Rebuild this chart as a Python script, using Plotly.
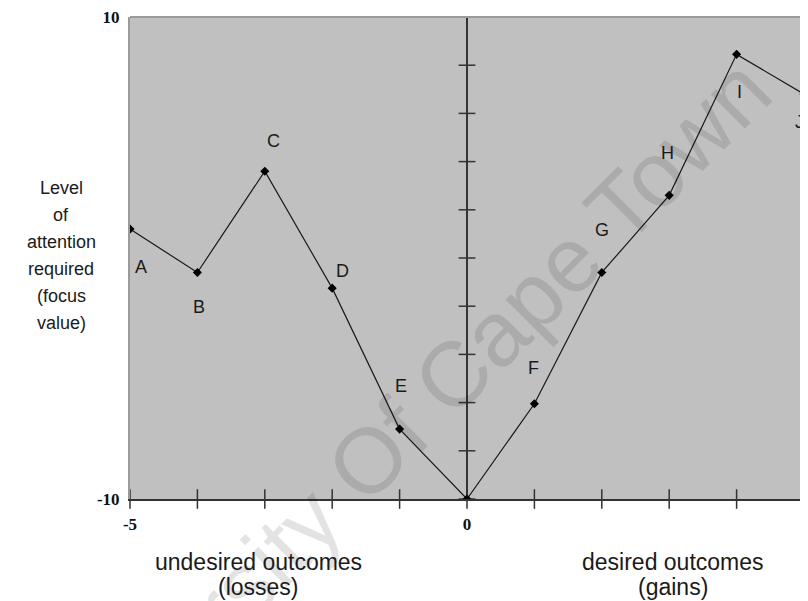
import plotly.graph_objects as go

# ---- data ----
point_labels = ["A", "B", "C", "D", "E", "", "F", "G", "H", "I", "J"]
outcomes = [-5, -4, -3, -2, -1, 0, 1, 2, 3, 4, 5]
focus_values = [1.2, -0.6, 3.6, -1.25, -7.1, -10, -6.05, -0.6, 2.6, 8.45, 6.8]

x_tick_vals = [-5, 0, 5]
x_tick_text = ["-5", "0", "5"]
y_tick_vals = [-10, 10]
y_tick_text = ["-10", "10"]
x_minor_ticks = [-5, -4, -3, -2, -1, 0, 1, 2, 3, 4, 5]
y_minor_ticks = [-10, -8, -6, -4, -2, 0, 2, 4, 6, 8, 10]

y_title_lines = ["Level", "of", "attention", "required", "(focus", "value)"]
loss_title_lines = ["undesired outcomes", "(losses)"]
gain_title_lines = ["desired outcomes", "(gains)"]
watermark = "University Of Cape Town"

# label offsets (pixels) relative to each point: (xshift, yshift)
label_shifts = [(11, -38), (2, -35), (9, 30), (10, 17), (1, 43), (0, 0),
                (-1, 36), (0, 42), (-2, 42), (3, -38), (-5, -28)]

SANS = "Liberation Sans, Arial"
SERIF = "Liberation Serif, Times New Roman"

fig = go.Figure()

# crossing tick marks on bottom axis
fig.add_trace(go.Scatter(
    x=x_minor_ticks, y=[-10] * len(x_minor_ticks), mode="markers",
    marker=dict(symbol="line-ns", size=14, line=dict(color="#333333", width=1.5)),
    cliponaxis=False, hoverinfo="skip", showlegend=False))
# crossing tick marks on central vertical axis
fig.add_trace(go.Scatter(
    x=[0] * len(y_minor_ticks), y=y_minor_ticks, mode="markers",
    marker=dict(symbol="line-ew", size=12, line=dict(color="#333333", width=1.5)),
    cliponaxis=False, hoverinfo="skip", showlegend=False))

# main series
fig.add_trace(go.Scatter(
    x=outcomes, y=focus_values, mode="lines+markers",
    line=dict(color="#1a1a1a", width=1.2),
    marker=dict(symbol="diamond", size=7, color="#000000"),
    showlegend=False))

annotations = []
# watermark first so other text sits on top
annotations.append(dict(
    text=watermark, xref="paper", yref="paper", x=0.395, y=0.14,
    showarrow=False, textangle=-45,
    font=dict(family=SANS, size=92, color="rgba(0,0,0,0.11)"),
    xanchor="center", yanchor="middle"))

for lab, xv, yv, (dx, dy) in zip(point_labels, outcomes, focus_values, label_shifts):
    if not lab:
        continue
    annotations.append(dict(
        text=lab, x=xv, y=yv, xref="x", yref="y", showarrow=False,
        xshift=dx, yshift=dy,
        font=dict(family=SANS, size=18, color="#1a1a1a")))

# bottom titles, one line at a time
for lines, xv in [(loss_title_lines, -3.1), (gain_title_lines, 3.05)]:
    for i, txt in enumerate(lines):
        annotations.append(dict(
            text=txt, x=xv, xref="x", y=-0.1304, yref="paper", showarrow=False,
            xanchor="center", yanchor="middle", yshift=-25 * i,
            font=dict(family=SANS, size=23, color="#1a1a1a")))

# y title, one line at a time
for i, word in enumerate(y_title_lines):
    annotations.append(dict(
        text=word, xref="paper", yref="paper", x=-0.102, y=0.5,
        xanchor="center", yanchor="middle", showarrow=False,
        yshift=(2.5 - i) * 27 + 3,
        font=dict(family=SANS, size=18, color="#1a1a1a")))

# page has an 8px body margin: the figure is shifted by 8px, so trim it
fig.update_layout(
    width=800, height=593,
    margin=dict(l=122, r=0, t=8, b=102),
    paper_bgcolor="white", plot_bgcolor="#c0c0c0",
    annotations=annotations,
    shapes=[dict(type="line", xref="paper", yref="paper", x0=0, x1=1, y0=1, y1=1,
                 line=dict(color="#9a9a9a", width=2))],
)
fig.update_xaxes(
    range=[-5, 5], tickvals=x_tick_vals, ticktext=x_tick_text,
    showgrid=False, zeroline=True, zerolinecolor="#333333", zerolinewidth=1.5,
    showline=True, linecolor="#333333", linewidth=2, ticks="", ticklabelstandoff=9,
    ticklabeloverflow="allow",
    tickfont=dict(family=SERIF, size=17, color="#111111", weight="bold"))
fig.update_yaxes(
    range=[-10, 10], tickvals=y_tick_vals, ticktext=y_tick_text,
    showgrid=False, zeroline=False,
    showline=True, linecolor="#9a9a9a", linewidth=2, ticks="", ticklabelstandoff=5,
    ticklabeloverflow="allow",
    tickfont=dict(family=SERIF, size=17, color="#111111", weight="bold"))

fig.write_html("out.html")
